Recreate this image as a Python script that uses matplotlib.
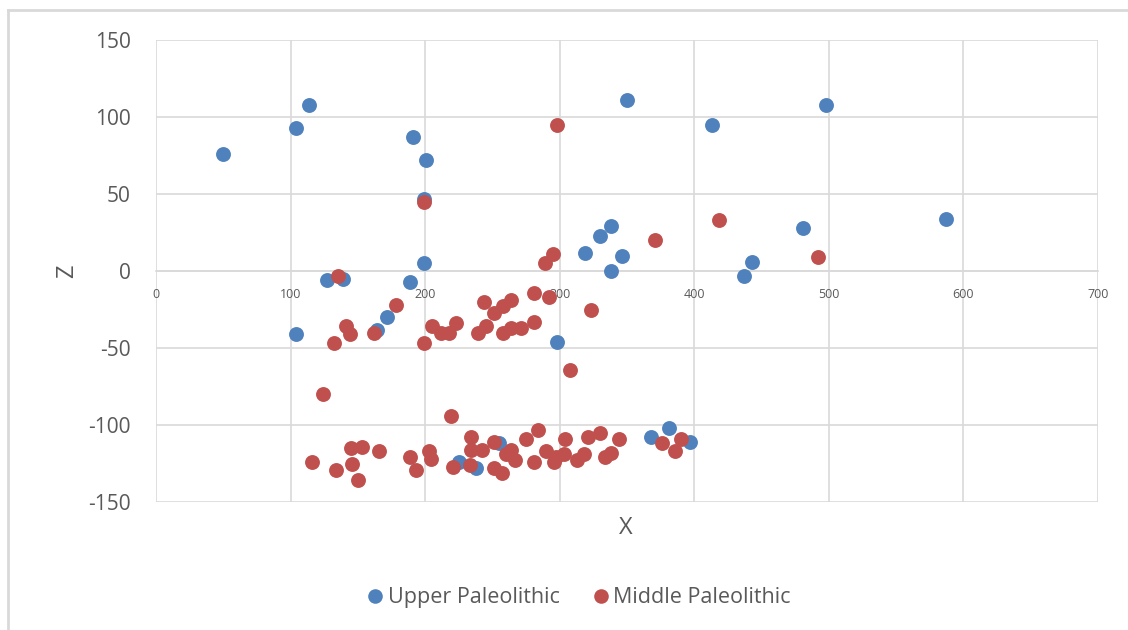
import matplotlib.pyplot as plt
from matplotlib.lines import Line2D

# Upper Paleolithic (X, Z)
upper_x = [50, 104, 114, 191, 201, 199, 199, 350, 413, 498, 587, 481, 443, 437,
           338, 330, 346, 338, 319, 127, 139, 104, 172, 164, 189, 298,
           368, 381, 397, 255, 238, 225]
upper_z = [76, 93, 108, 87, 72, 47, 5, 111, 95, 108, 34, 28, 6, -3,
           29, 23, 10, 0, 12, -6, -5, -41, -30, -38, -7, -46,
           -108, -102, -111, -112, -128, -124]

# Middle Paleolithic (X, Z)
middle_x = [298, 199, 418, 371, 492, 295, 289, 135, 178, 141, 144, 132, 162,
            205, 212, 218, 223, 199, 239, 244, 245, 251, 258, 264, 258, 264,
            271, 281, 281, 292, 323, 308, 124, 219,
            116, 134, 145, 153, 146, 150, 166, 189, 193, 203, 204, 221, 233,
            234, 234, 251, 242, 251, 257, 260, 264, 267, 275, 284, 281, 290,
            297, 296, 304, 303, 313, 318, 321, 330, 334, 338, 344, 376, 386, 390]
middle_z = [95, 45, 33, 20, 9, 11, 5, -3, -22, -36, -41, -47, -40,
            -36, -40, -40, -34, -47, -40, -20, -36, -27, -23, -19, -40, -37,
            -37, -33, -14, -17, -25, -64, -80, -94,
            -124, -129, -115, -114, -125, -136, -117, -121, -129, -117, -122, -127, -126,
            -108, -116, -111, -116, -128, -131, -119, -116, -123, -109, -103, -124, -117,
            -121, -124, -109, -119, -123, -119, -108, -105, -121, -118, -109, -112, -117, -109]

blue = '#4F81BD'
red = '#C0504D'
txt = '#595959'
grid = '#D9D9D9'

plt.rcParams['font.family'] = ['Open Sans', 'DejaVu Sans']
plt.rcParams['axes.unicode_minus'] = False

fig = plt.figure(figsize=(11.28, 6.3), dpi=100)
ax = fig.add_axes([156 / 1128, 1 - 502 / 630, 942 / 1128, 462 / 630])

ax.scatter(upper_x, upper_z, s=115, color=blue, linewidths=0, zorder=3)
ax.scatter(middle_x, middle_z, s=115, color=red, linewidths=0, zorder=4)

ax.set_xlim(0, 700)
ax.set_ylim(-150, 150)
ax.set_xticks(range(0, 701, 100))
ax.set_yticks(range(-150, 151, 50))
ax.grid(True, color=grid, linewidth=1.2)
ax.set_axisbelow(True)

for s in ['top', 'right', 'left']:
    ax.spines[s].set_visible(False)
ax.spines['bottom'].set_position(('data', 0))
ax.spines['bottom'].set_color(grid)
ax.spines['bottom'].set_linewidth(1.2)

ax.tick_params(axis='x', length=0, pad=12, labelsize=9, labelcolor=txt)
ax.tick_params(axis='y', length=0, pad=18, labelsize=15, labelcolor=txt)

ax.set_xlabel('X', fontsize=17, color=txt)
ax.xaxis.set_label_coords(0.499, -0.03)
ax.set_ylabel('Z', fontsize=17, color=txt)
ax.yaxis.set_label_coords(-0.082, 0.5)

handles = [Line2D([], [], marker='o', linestyle='none', markersize=10.5,
                  markerfacecolor=blue, markeredgewidth=0, label='Upper Paleolithic'),
           Line2D([], [], marker='o', linestyle='none', markersize=10.5,
                  markerfacecolor=red, markeredgewidth=0, label='Middle Paleolithic')]
fig.legend(handles=handles, loc='center', bbox_to_anchor=(0.512, 0.051), ncol=2,
           frameon=False, fontsize=15.5, labelcolor=txt, handletextpad=0.1,
           columnspacing=1.4, handlelength=1.0)

# chart border lines
fig.add_artist(Line2D([8 / 1128, 8 / 1128], [0, 1 - 10 / 630], color=grid, linewidth=2))
fig.add_artist(Line2D([8 / 1128, 1], [1 - 10 / 630, 1 - 10 / 630], color=grid, linewidth=2))

fig.savefig('out.png', dpi=100)
